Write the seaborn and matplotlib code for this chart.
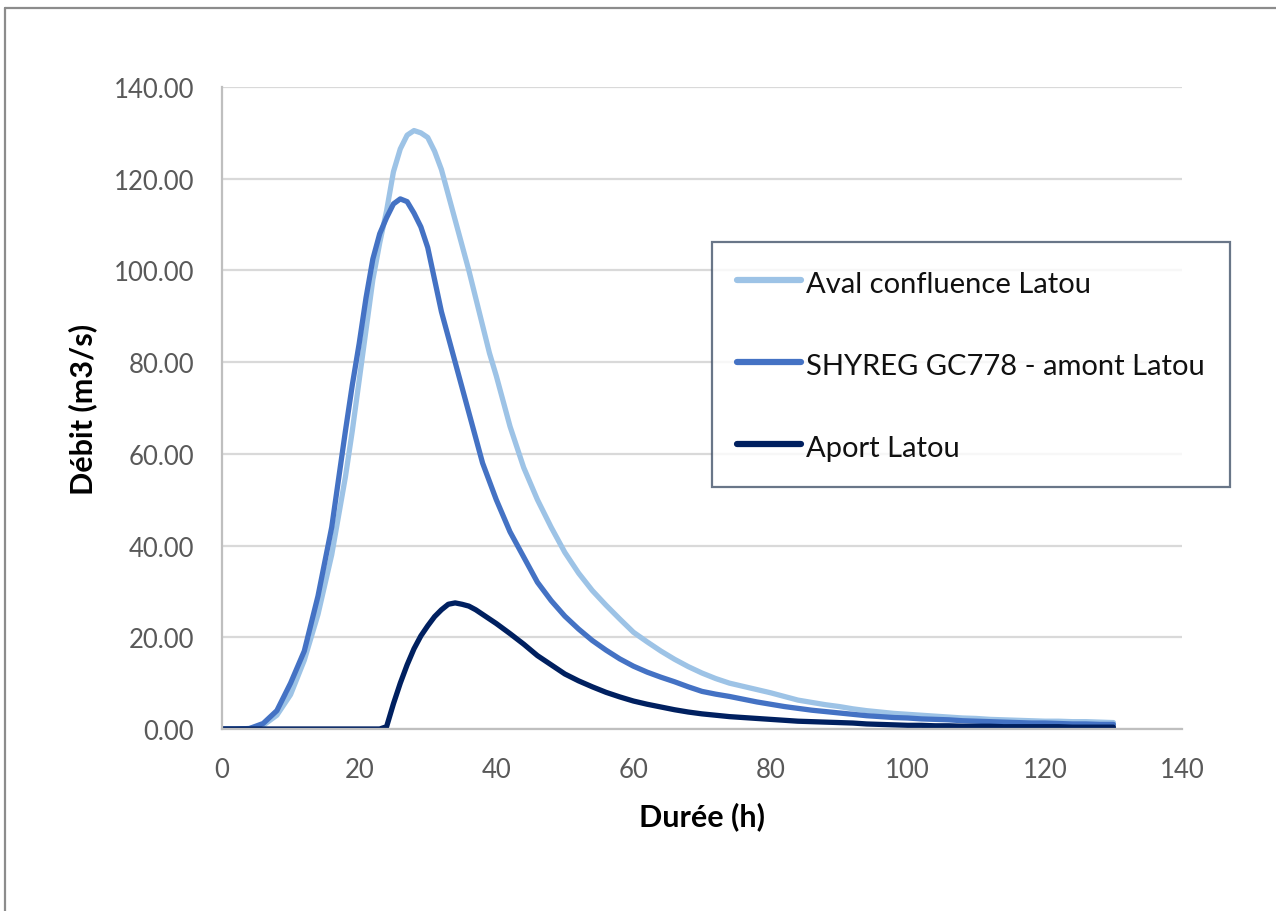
import numpy as np
import pandas as pd
import matplotlib
matplotlib.use("Agg")
import matplotlib.pyplot as plt
import seaborn as sns
from matplotlib.lines import Line2D

# ---- data ----
hours = (list(range(0, 19, 2)) + list(range(19, 41)) + list(range(42, 131, 2)))

aval = ([0, 0, 0.1, 0.8, 3, 7.5, 15, 25, 38, 55] +
        [65, 76, 87, 98, 106, 113, 121.5, 126.5, 129.5, 130.5, 130, 129, 126,
         122, 116.5, 111, 105.5, 100, 94, 88, 82, 77] +
        [66, 57, 50, 44, 38.5, 34, 30.2, 27, 24, 21.1,
         19, 17, 15.2, 13.6, 12.2, 11, 10, 9.3, 8.6, 7.9, 7.1, 6.3, 5.8, 5.3,
         4.9, 4.4, 4.0, 3.7, 3.4, 3.2, 3.0, 2.8, 2.6, 2.4, 2.3, 2.1, 2.0, 1.9,
         1.8, 1.7, 1.7, 1.6, 1.6, 1.5, 1.4])

shyreg = ([0, 0, 0.1, 1.2, 4, 10, 17, 29, 44, 65] +
          [75, 84, 94, 102.5, 108, 111.5, 114.5, 115.6, 115, 112.5, 109.5, 105,
           98, 91, 85.5, 80, 74.5, 69, 63.5, 58, 54, 50] +
          [43, 37.5, 32, 28, 24.6, 21.8, 19.3, 17.2,
           15.3, 13.7, 12.4, 11.3, 10.3, 9.2, 8.2, 7.6, 7.1, 6.5, 5.9, 5.4, 4.9,
           4.5, 4.1, 3.8, 3.5, 3.2, 2.9, 2.7, 2.5, 2.4, 2.2, 2.1, 2.0, 1.8, 1.7,
           1.6, 1.5, 1.4, 1.3, 1.3, 1.2, 1.1, 1.1, 1.0, 1.0])

aport = ([0, 0, 0, 0, 0, 0, 0, 0, 0, 0] +
         [0, 0, 0, 0, 0, 0.5, 5.5, 10, 14, 17.5, 20.3, 22.5, 24.5, 26, 27.2,
          27.5, 27.2, 26.8, 26, 25, 24, 23] +
         [20.8, 18.5, 16, 14, 12, 10.5, 9.2, 8, 7, 6.1, 5.4, 4.8,
          4.2, 3.7, 3.3, 3.0, 2.7, 2.5, 2.3, 2.1, 1.9, 1.7, 1.6, 1.5, 1.4, 1.3,
          1.1, 1.0, 0.9, 0.8, 0.8, 0.7, 0.7, 0.6, 0.6, 0.6, 0.5, 0.5, 0.5, 0.5,
          0.5, 0.4, 0.4, 0.4, 0.4])

series_names = ["Aval confluence Latou", "SHYREG GC778 - amont Latou", "Aport Latou"]
series_colors = ["#9DC3E6", "#4472C4", "#002060"]

x_ticks = [0, 20, 40, 60, 80, 100, 120, 140]
y_ticks = [0, 20, 40, 60, 80, 100, 120, 140]
x_label = "Durée (h)"
y_label = "Débit (m3/s)"

df = pd.concat([
    pd.DataFrame({"h": hours, "q": vals, "serie": name})
    for name, vals in zip(series_names, [aval, shyreg, aport])
], ignore_index=True)

# ---- figure ----
sns.set_theme(style="white")
plt.rcParams["font.family"] = ["Lato", "DejaVu Sans"]

W, H = 1276, 912
fig = plt.figure(figsize=(W / 100, H / 100), dpi=100)
ax = fig.add_axes([222 / W, 1 - 730 / H, (1182 - 222) / W, (730 - 88) / H])

sns.lineplot(data=df, x="h", y="q", hue="serie", hue_order=series_names,
             palette=series_colors, linewidth=3.8, ax=ax, legend=False,
             solid_capstyle="round", solid_joinstyle="round")

ax.set_xlim(0, 140)
ax.set_ylim(0, 140)
ax.set_xticks(x_ticks)
ax.set_yticks(y_ticks)
ax.set_yticklabels([f"{v:.2f}" for v in y_ticks])
ax.tick_params(axis="both", length=0, labelsize=18.5, labelcolor="#595959", pad=20)
ax.grid(axis="y", color="#D9D9D9", linewidth=1.6)
ax.grid(axis="x", visible=False)
ax.set_axisbelow(True)
for s in ["top", "right"]:
    ax.spines[s].set_visible(False)
for s in ["left", "bottom"]:
    ax.spines[s].set_color("#BFBFBF")
    ax.spines[s].set_linewidth(1.6)

ax.set_xlabel(x_label, fontsize=22, fontweight="bold", color="black", labelpad=14)
ax.set_ylabel(y_label, fontsize=22, fontweight="bold", color="black", labelpad=12)

handles = [Line2D([0], [0], color=c, linewidth=4.5, solid_capstyle="round")
           for c in series_colors]
leg = fig.legend(handles, series_names, loc="upper left",
                 bbox_to_anchor=(712 / W, 1 - 243 / H),
                 frameon=True, fancybox=False, fontsize=21,
                 handlelength=2.2, handletextpad=0.18, labelspacing=1.72,
                 handleheight=1.3, borderpad=0.85, borderaxespad=0)
leg.get_frame().set_edgecolor("#44546A")
leg.get_frame().set_linewidth(1.6)
for t in leg.get_texts():
    t.set_color("#111111")

# outer chart-area border (top and left visible in the reference)
fig.add_artist(Line2D([4.5 / W, 4.5 / W], [0, 1 - 8.5 / H], transform=fig.transFigure,
                      color="#8C8C8C", linewidth=1.6))
fig.add_artist(Line2D([4.5 / W, 1], [1 - 8.5 / H, 1 - 8.5 / H], transform=fig.transFigure,
                      color="#8C8C8C", linewidth=1.6))

fig.savefig("out.png", dpi=100, facecolor="white")
